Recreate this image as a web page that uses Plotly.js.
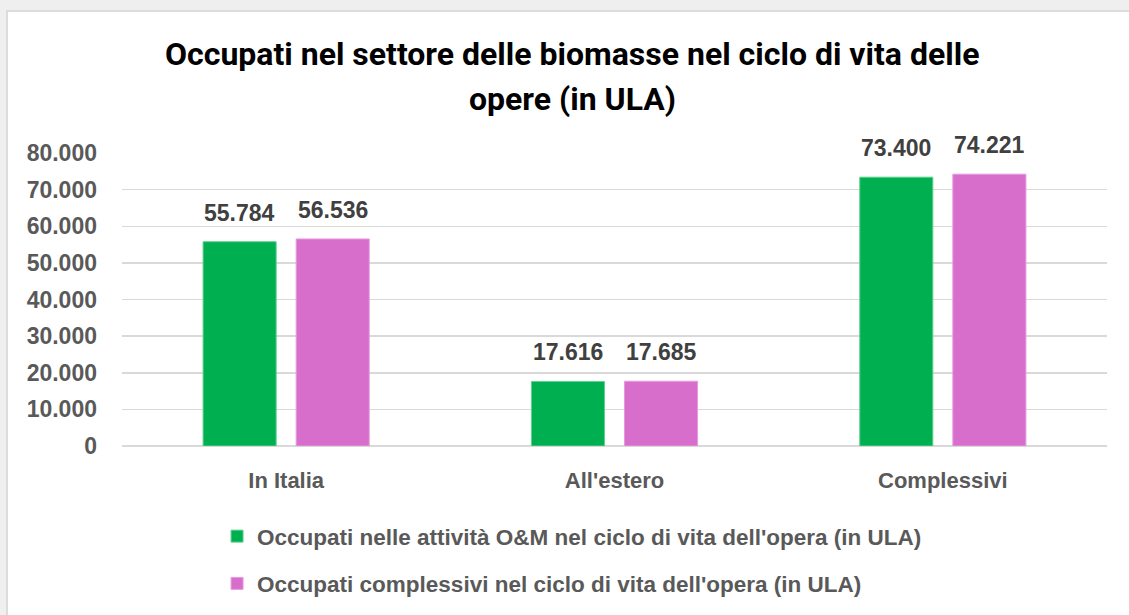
<!DOCTYPE html>
<html>
<head>
<meta charset="utf-8">
<script src="https://cdn.plot.ly/plotly-3.0.1.min.js"></script>
<style>
  html, body { margin: 0; padding: 0; background: #efefef; }
  #frame { position: absolute; left: 6px; top: 10px; width: 1123px; height: 605px; background: #ffffff; border-left: 2px solid #dcdcdc; border-top: 2px solid #dcdcdc; box-sizing: border-box; }
  #chart { position: absolute; left: 0; top: 0; width: 1129px; height: 615px; }
</style>
</head>
<body>
<div id="frame"></div>
<div id="chart"></div>
<script>
const categories = ["In Italia", "All'estero", "Complessivi"];
const seriesNames = [
  "Occupati nelle attività O&M nel ciclo di vita dell'opera (in ULA)",
  "Occupati complessivi nel ciclo di vita dell'opera (in ULA)"
];
const occupatiOM = [55784, 17616, 73400];
const occupatiComplessivi = [56536, 17685, 74221];
const tickValues = [0, 10000, 20000, 30000, 40000, 50000, 60000, 70000, 80000];
const titleLines = ["Occupati nel settore delle biomasse nel ciclo di vita delle", "opere (in ULA)"];

const FONT = "'Liberation Sans', Arial, sans-serif";
const TITLEFONT = "Roboto, 'Liberation Sans', Arial, sans-serif";

const commonBar = {
  type: 'bar',
  x: categories,
  cliponaxis: false,
  hoverinfo: 'skip'
};

const data = [
  Object.assign({}, commonBar, {
    name: seriesNames[0], y: occupatiOM, legendgroup: 'a',
    marker: { color: '#00b050', line: { color: '#5fd08e', width: 1 } }
  }),
  Object.assign({}, commonBar, {
    name: seriesNames[1], y: occupatiComplessivi, legendgroup: 'b',
    marker: { color: '#d86ecc', line: { color: '#e59be0', width: 1 } }
  })
];

const H = 446, T = 153;
function py(pix) { return (H - pix) / (H - T); }
function fmt(v) { return v.toLocaleString('it-IT').replace(/\s/g, '.'); }

const labelAnnotations = [];
[occupatiOM, occupatiComplessivi].forEach((vals, s) => {
  vals.forEach((v, i) => {
    labelAnnotations.push({
      x: categories[i], y: v, xref: 'x', yref: 'y',
      xshift: s === 0 ? -46.5 : 46.5, yshift: 14,
      text: fmt(v), showarrow: false, xanchor: 'center', yanchor: 'bottom',
      font: { family: FONT, size: 23, color: '#404040', weight: 'bold' }
    });
  });
});

const titleAnnotations = titleLines.map((t, i) => ({
  text: t, xref: 'paper', yref: 'paper', x: (572 - 122) / 985, y: py(i === 0 ? 75 : 120),
  xanchor: 'center', yanchor: 'bottom', showarrow: false,
  font: { family: TITLEFONT, size: 32, color: '#000000', weight: 'bold' }
}));

const layout = {
  width: 1129, height: 615,
  paper_bgcolor: 'rgba(0,0,0,0)', plot_bgcolor: 'rgba(0,0,0,0)',
  margin: { l: 122, r: 22, t: T, b: 615 - H, pad: 0, autoexpand: false },
  separators: ',.',
  barmode: 'group',
  bargap: 0.433,
  bargroupgap: 0.215,
  showlegend: true,
  legend: {
    orientation: 'v', x: 0.0965, xanchor: 'left', y: py(515), yanchor: 'top',
    font: { family: FONT, size: 22.5, color: '#595959', weight: 'bold' },
    tracegroupgap: 15, traceorder: 'grouped', bgcolor: 'rgba(0,0,0,0)'
  },
  xaxis: {
    type: 'category', showline: false, ticks: '', showgrid: false,
    tickfont: { family: FONT, size: 22, color: '#595959', weight: 'bold' },
    ticklabelstandoff: 19, automargin: false
  },
  yaxis: {
    range: [0, 80000], tickvals: tickValues, tickformat: ',d',
    showgrid: true, gridcolor: '#d9d9d9', gridwidth: 1.5,
    zeroline: true, zerolinecolor: '#d9d9d9', zerolinewidth: 1.5,
    showline: false, ticks: '', automargin: false,
    tickfont: { family: FONT, size: 23, color: '#595959', weight: 'bold' },
    ticklabelstandoff: 24
  },
  annotations: titleAnnotations.concat(labelAnnotations)
};

Plotly.newPlot('chart', data, layout, { displayModeBar: false, staticPlot: true });
</script>
</body>
</html>
